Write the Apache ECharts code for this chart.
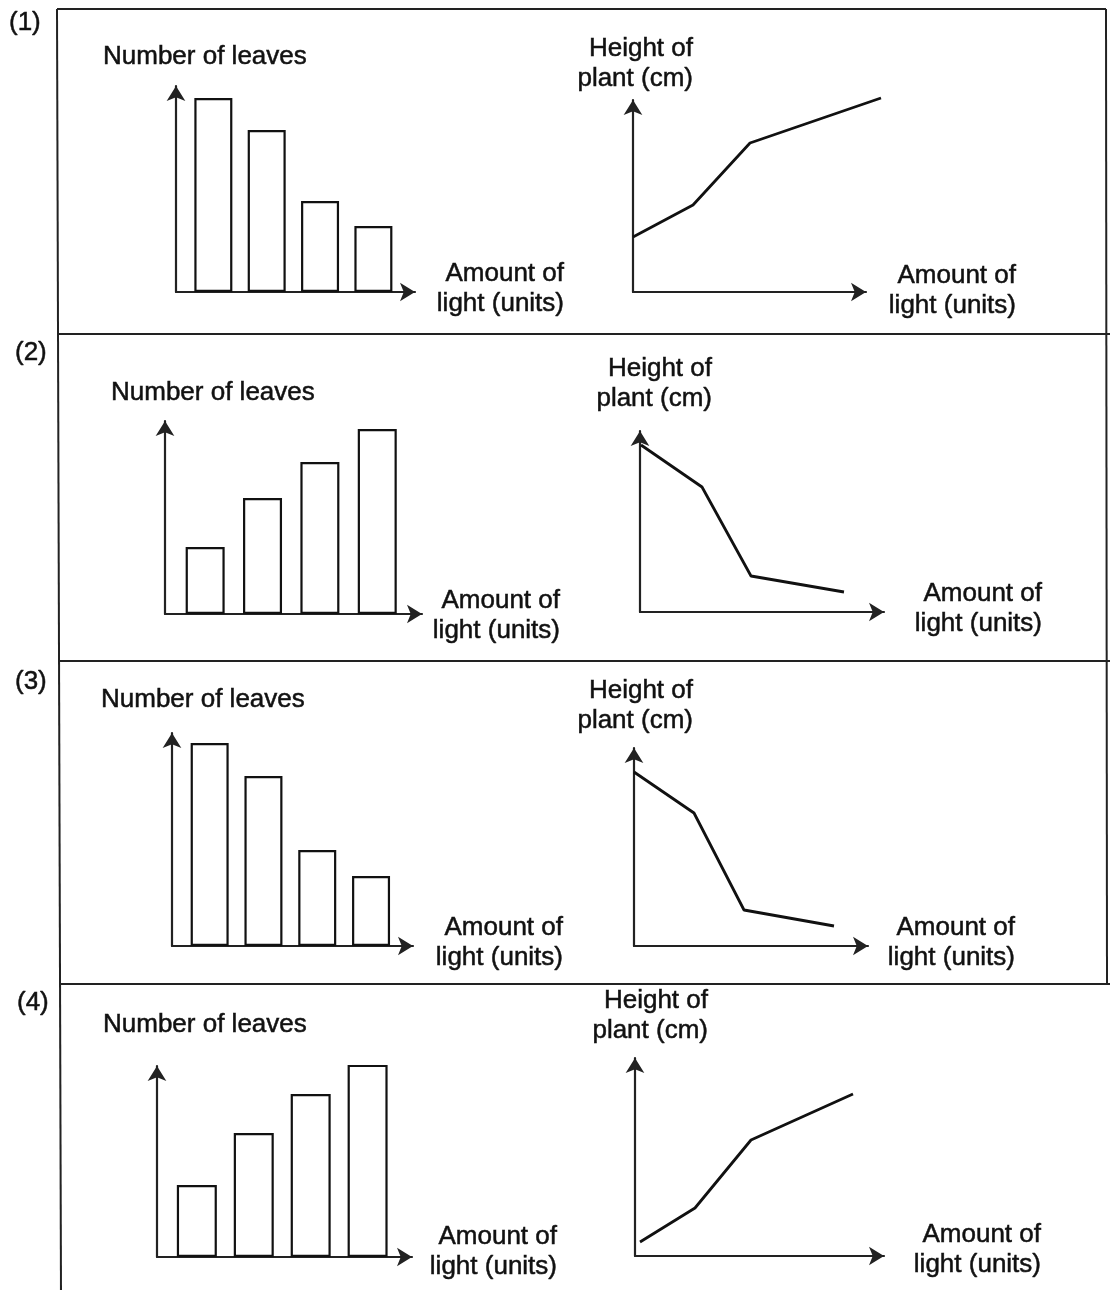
<!DOCTYPE html>
<html>
<head>
<meta charset="utf-8">
<script src="https://cdn.jsdelivr.net/npm/echarts@6/dist/echarts.min.js"></script>
<style>
html,body{margin:0;padding:0;background:#ffffff;}
#chart{width:1110px;height:1290px;}
</style>
</head>
<body>
<div id="chart"></div>
<script>
// ---------------- DATA ----------------
const optionLabels = ['(1)', '(2)', '(3)', '(4)'];
const leavesTitle = 'Number of leaves';
const heightTitle = 'Height of\nplant (cm)';
const lightTitle = 'Amount of\nlight (units)';

// bar charts: amount of light level vs number of leaves
const lightLevels = [1, 2, 3, 4];
const leaves1 = [9.7, 8.1, 4.55, 3.3];
const leaves2 = [3.35, 5.8, 7.6, 9.25];
const leaves3 = [10.15, 8.5, 4.8, 3.5];
const leaves4 = [3.6, 6.2, 8.15, 10.0];
const leavesMax = [10.3, 9.65, 10.65, 9.55];
const levelMin = 0.3;
const levelMax = 4.78;

// line charts: amount of light vs height of plant
const light1 = [0, 3.0, 5.85, 12.4];
const height1 = [2.75, 4.35, 7.45, 9.7];
const light2 = [0.05, 3.1, 5.55, 10.2];
const height2 = [8.35, 6.25, 1.8, 1.0];
const light3 = [0, 3.0, 5.5, 10.0];
const height3 = [8.7, 6.65, 1.8, 1.0];
const light4 = [0.25, 3.0, 5.8, 10.9];
const height4 = [0.7, 2.4, 5.8, 8.1];
const lightMax = [11.65, 12.2, 11.7, 12.45];
const heightMax = [9.6, 9.05, 9.9, 9.9];
// the drawn lines may run a little past the arrow heads
const lineSpanX = 14;
const lineSpanY = 11;

// ---------------- LAYOUT ----------------
const UNIT = 20; // px per unit on the line charts
const barGrids = [
  {left: 176, top: 86, width: 239, height: 206},
  {left: 165, top: 421, width: 257, height: 193},
  {left: 172, top: 733, width: 241, height: 213},
  {left: 157, top: 1066, width: 255, height: 191}
];
const lineOrigins = [[633, 292], [640, 612], [634, 946], [635, 1256]];
const barWidths = [38, 39, 38, 40];
const panelLabelPos = [[9, 23], [15, 353], [15, 682], [17, 1003]];
const leavesLabelPos = [[103, 57], [111, 393], [101, 700], [103, 1025]];
const barLightLabelPos = [[564, 289], [560, 616], [563, 943], [557, 1252]];
const heightLabelPos = [[693, 64], [712, 384], [693, 706], [708, 1016]];
const lineLightLabelPos = [[1016, 291], [1042, 609], [1015, 943], [1041, 1250]];

const INK = '#111111';
const FONT = '"Liberation Sans", Arial, Helvetica, sans-serif';

// ---------------- BUILD ----------------
const leavesData = [leaves1, leaves2, leaves3, leaves4];
const lightData = [light1, light2, light3, light4];
const heightData = [height1, height2, height3, height4];

function axis(gridIndex, min, max, visible) {
  return {
    type: 'value', gridIndex: gridIndex, min: min, max: max, show: visible,
    axisLine: {show: visible, onZero: false, symbol: ['none', 'arrow'], symbolSize: [14, 15],
      lineStyle: {color: '#222', width: 2.2}},
    axisTick: {show: false}, axisLabel: {show: false}, splitLine: {show: false}
  };
}

const grids = [], xAxes = [], yAxes = [], series = [], graphics = [];
function addGrid(g) {
  grids.push(Object.assign({containLabel: false, outerBoundsMode: 'none'}, g));
  return grids.length - 1;
}

for (let i = 0; i < 4; i++) {
  // bar chart
  const gb = addGrid(barGrids[i]);
  xAxes.push(axis(gb, levelMin, levelMax, true));
  yAxes.push(axis(gb, 0, leavesMax[i], true));
  series.push({
    type: 'bar', xAxisIndex: gb, yAxisIndex: gb,
    data: lightLevels.map((x, k) => [x, leavesData[i][k]]),
    barWidth: barWidths[i],
    itemStyle: {color: '#ffffff', borderColor: INK, borderWidth: 2.2},
    silent: true
  });

  // line chart: visible axes with arrows
  const o = lineOrigins[i];
  const gAx = addGrid({left: o[0], top: o[1] - lightMax[i] * 0 - heightMax[i] * UNIT,
    width: lightMax[i] * UNIT, height: heightMax[i] * UNIT});
  xAxes.push(axis(gAx, 0, lightMax[i], true));
  yAxes.push(axis(gAx, 0, heightMax[i], true));
  // same scale, wider extent, hidden axes: carries the data line
  const gl = addGrid({left: o[0], top: o[1] - lineSpanY * UNIT,
    width: lineSpanX * UNIT, height: lineSpanY * UNIT});
  xAxes.push(axis(gl, 0, lineSpanX, false));
  yAxes.push(axis(gl, 0, lineSpanY, false));
  series.push({
    type: 'line', xAxisIndex: xAxes.length - 1, yAxisIndex: yAxes.length - 1,
    data: lightData[i].map((x, k) => [x, heightData[i][k]]),
    symbol: 'none', clip: false, z: 5,
    lineStyle: {color: INK, width: 2.8},
    silent: true
  });

  const txt = (text, pos, align) => ({
    type: 'text', silent: true, z: 10,
    style: {text: text, x: pos[0], y: pos[1], fill: INK, stroke: INK, lineWidth: 0.5,
      fontSize: 26, fontFamily: FONT, align: align, verticalAlign: 'middle', lineHeight: 30}
  });
  graphics.push(txt(optionLabels[i], panelLabelPos[i], 'left'));
  graphics.push(txt(leavesTitle, leavesLabelPos[i], 'left'));
  graphics.push(txt(lightTitle, barLightLabelPos[i], 'right'));
  graphics.push(txt(heightTitle, heightLabelPos[i], 'right'));
  graphics.push(txt(lightTitle, lineLightLabelPos[i], 'right'));
}

// frame of the answer table
const frameLines = [
  [57, 9, 1106, 9],
  [57, 9, 61, 1290],
  [1106, 9, 1107, 984],
  [57, 334, 1110, 334],
  [58, 661, 1110, 661],
  [60, 984, 1110, 984]
];
frameLines.forEach(l => graphics.push({
  type: 'line', silent: true, z: 1,
  shape: {x1: l[0], y1: l[1], x2: l[2], y2: l[3]},
  style: {stroke: '#222', lineWidth: 2}
}));

const chart = echarts.init(document.getElementById('chart'), null, {renderer: 'canvas'});
chart.setOption({
  backgroundColor: '#ffffff',
  animation: false,
  grid: grids,
  xAxis: xAxes,
  yAxis: yAxes,
  series: series,
  graphic: graphics
});
</script>
</body>
</html>
